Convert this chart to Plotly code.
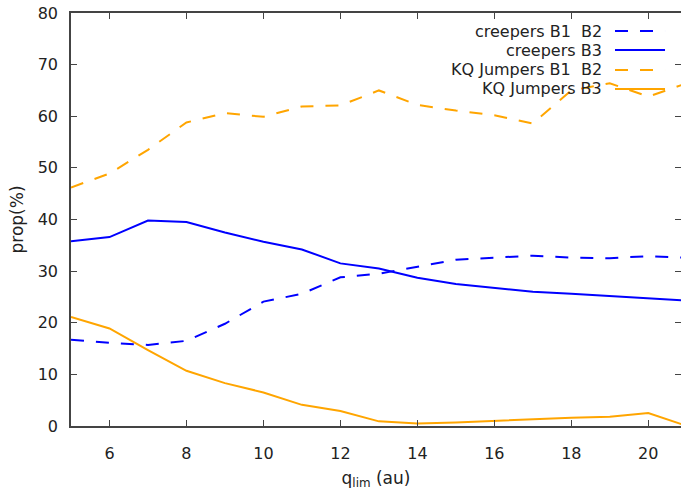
import plotly.graph_objects as go

q_lim = [5, 6, 7, 8, 9, 10, 11, 12, 13, 14, 15, 16, 17, 18, 19, 20, 21]
creepers_b1b2 = [16.7, 16.1, 15.7, 16.5, 19.8, 24.1, 25.6, 28.8, 29.5, 30.9, 32.2, 32.6, 33.0, 32.6, 32.5, 32.9, 32.6]
creepers_b3 = [35.8, 36.6, 39.8, 39.5, 37.5, 35.7, 34.2, 31.5, 30.5, 28.7, 27.5, 26.7, 26.0, 25.6, 25.2, 24.7, 24.3]
kq_b1b2 = [46.2, 48.9, 53.5, 58.8, 60.6, 59.9, 61.9, 62.1, 65.0, 62.2, 61.1, 60.2, 58.6, 65.0, 66.4, 63.8, 66.4]
kq_b3 = [21.1, 18.9, 14.7, 10.7, 8.3, 6.5, 4.1, 2.9, 0.9, 0.5, 0.7, 1.0, 1.4, 1.6, 1.8, 2.5, 0.0]

names = ["creepers B1  B2", "creepers B3", "KQ Jumpers B1  B2", "KQ Jumpers B3"]
series = [creepers_b1b2, creepers_b3, kq_b1b2, kq_b3]
colors = ["#0000ff", "#0000ff", "#ffa500", "#ffa500"]
dashes = ["13px,12px", "solid", "13px,12px", "solid"]

FONT = "DejaVu Sans"
fig = go.Figure()
for n, s, c, d in zip(names, series, colors, dashes):
    fig.add_trace(go.Scatter(x=q_lim, y=s, mode="lines", name=n,
                             line=dict(color=c, width=2, dash=d),
                             showlegend=False, cliponaxis=True))

# manual gnuplot-style legend (text left, sample right)
rows_y = [0.9564, 0.9104, 0.862, 0.816]
for n, c, d, yy in zip(names, colors, dashes, rows_y):
    fig.add_annotation(xref="paper", yref="paper", x=0.8738, y=yy, text=n,
                       showarrow=False, xanchor="right", yanchor="middle",
                       font=dict(family=FONT, size=16, color="#222"))
    fig.add_shape(type="line", xref="paper", yref="paper",
                  x0=0.8918, x1=0.9738, y0=yy, y1=yy,
                  line=dict(color=c, width=2, dash=d))

axis_common = dict(showline=True, linecolor="#444", linewidth=1.5, mirror="ticks",
                   ticks="inside", ticklen=6, tickwidth=1.2, tickcolor="#444",
                   showgrid=False, zeroline=False, automargin=False,
                   tickfont=dict(family=FONT, size=16, color="#222"))

fig.update_xaxes(range=[5, 20.85], tickvals=[6, 8, 10, 12, 14, 16, 18, 20],
                 ticklabelstandoff=12,
                 title=dict(text="q<sub>lim</sub> (au)", standoff=10,
                            font=dict(family=FONT, size=17, color="#222")),
                 **axis_common)
fig.update_yaxes(range=[0, 80], tickvals=[0, 10, 20, 30, 40, 50, 60, 70, 80],
                 ticklabelstandoff=8,
                 title=dict(text="prop(%)", standoff=10,
                            font=dict(family=FONT, size=17, color="#222")),
                 **axis_common)

fig.update_layout(width=681, height=491,
                  margin=dict(l=71, r=0, t=13, b=65),
                  plot_bgcolor="white", paper_bgcolor="white",
                  font=dict(family=FONT, size=16, color="#222"))

fig.write_html("out.html")
